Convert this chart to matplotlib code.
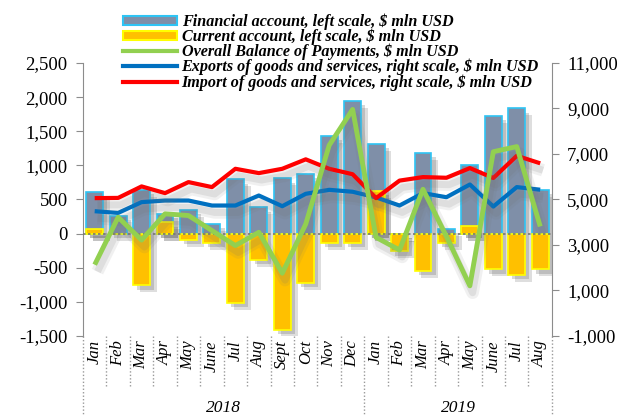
import numpy as np
import matplotlib
matplotlib.use("Agg")
import matplotlib.pyplot as plt
import matplotlib.patheffects as pe
from matplotlib.patches import Patch
from matplotlib.lines import Line2D

plt.rcParams["font.family"] = ["Liberation Serif", "DejaVu Serif"]

# --- Data ---
months = ["Jan", "Feb", "Mar", "Apr", "May", "June", "Jul", "Aug", "Sept", "Oct", "Nov", "Dec",
          "Jan", "Feb", "Mar", "Apr", "May", "June", "Jul", "Aug"]
years = ["2018", "2019"]
year_lengths = [12, 8]

financial = [610, 265, 635, 290, 345, 145, 795, 385, 810, 880, 1430, 1945,
             1310, -20, 1180, 70, 1000, 1720, 1835, 640]
current = [65, -10, -760, 165, -95, -135, -1015, -380, -1415, -725, -135, -140,
           620, -260, -545, -140, 105, -525, -610, -525]
balance = [-455, 240, -95, 290, 265, 45, -175, 20, -580, 140, 1295, 1820,
           -55, -240, 650, -40, -765, 1200, 1275, 105]
exports = [4485, 4410, 4885, 4955, 4955, 4735, 4735, 5175, 4705, 5250, 5425, 5340,
           5090, 4735, 5280, 5100, 5660, 4690, 5545, 5430]
imports = [5060, 5070, 5575, 5280, 5765, 5545, 6350, 6160, 6350, 6765, 6350, 6110,
           5060, 5830, 5985, 5955, 6380, 5945, 6920, 6590]

labels = ["Financial account, left scale, $ mln USD",
          "Current account, left scale, $ mln USD",
          "Overall Balance of Payments, $ mln USD",
          "Exports of goods and services, right scale, $ mln USD",
          "Import of goods and services, right scale, $ mln USD"]

c_fin, c_fin_edge = "#7F8FA8", "#2EC4F4"
c_cur, c_cur_edge = "#FFC000", "#FFFF00"
c_bop, c_exp, c_imp = "#92D050", "#0070C0", "#FF0000"
axis_grey = "#8C8C8C"

x = np.arange(len(months))

fig = plt.figure(figsize=(6.3, 4.16), dpi=100)
ax = fig.add_axes([0.1317, 0.1923, 0.7444, 0.6563])

# soft-ish drop shadows, stacked to fake a blur
bar_shadow = [pe.SimplePatchShadow(offset=(5, -5), shadow_rgbFace="0.3", alpha=0.18),
              pe.SimplePatchShadow(offset=(3, -3), shadow_rgbFace="0.3", alpha=0.22),
              pe.Normal()]
line_shadow = [pe.SimpleLineShadow(offset=(2, -5), shadow_color="0.45", alpha=0.10, linewidth=9),
               pe.SimpleLineShadow(offset=(2, -5), shadow_color="0.45", alpha=0.14, linewidth=5),
               pe.Normal()]

ax.bar(x, financial, width=0.72, color=c_fin, edgecolor=c_fin_edge, linewidth=1.2,
       path_effects=bar_shadow, zorder=2)
ax.bar(x, current, width=0.72, color=c_cur, edgecolor=c_cur_edge, linewidth=1.2,
       path_effects=bar_shadow, zorder=3)
ax.axhline(0, color="#777777", linestyle=(0, (1.5, 1.5)), linewidth=1.2, zorder=4)

ax.set_xlim(-0.5, len(months) - 0.5)
ax.set_ylim(-1500, 2500)
ax.set_yticks(np.arange(-1500, 2501, 500))
ax.set_yticklabels([f"{v:,}" for v in range(-1500, 2501, 500)])

ax2 = ax.twinx()
ax2.plot(x, exports, color=c_exp, linewidth=3, path_effects=line_shadow, solid_capstyle="butt")
ax2.plot(x, imports, color=c_imp, linewidth=3, path_effects=line_shadow, solid_capstyle="butt")
ax2.set_ylim(-1000, 11000)
ax2.set_yticks(np.arange(-1000, 11001, 2000))
ax2.set_yticklabels([f"{v:,}" for v in range(-1000, 11001, 2000)])

ax3 = ax.twinx()
ax3.plot(x, balance, color=c_bop, linewidth=3.5, path_effects=line_shadow, solid_capstyle="butt")
ax3.set_ylim(ax.get_ylim())
ax3.axis("off")

for a in (ax, ax2):
    for s in a.spines.values():
        s.set_visible(False)
ax.spines["left"].set_visible(True)
ax.spines["left"].set_color(axis_grey)
ax2.spines["right"].set_visible(True)
ax2.spines["right"].set_color(axis_grey)
ax.tick_params(axis="y", direction="out", length=5, color=axis_grey, labelsize=13.5, pad=6)
ax2.tick_params(axis="y", direction="out", length=5, color=axis_grey, labelsize=13.5, pad=6)
ax.patch.set_visible(False)

ax.set_xticks(x)
ax.set_xticklabels(months, rotation=90, fontstyle="italic", fontsize=12)
ax.tick_params(axis="x", length=0, pad=3)

# dotted category separators below the plot
trans = ax.get_xaxis_transform()
for i in range(len(months) + 1):
    long_sep = i in (0, 12, len(months))
    ax.plot([i - 0.5, i - 0.5], [0, -0.30 if long_sep else -0.19], transform=trans,
            color="#999999", linestyle=(0, (1, 1.5)), linewidth=1, clip_on=False)

start = 0
for yr, n in zip(years, year_lengths):
    ax.text(start + n / 2 - 0.5, -0.265, yr, transform=trans, ha="center", va="center",
            fontstyle="italic", fontsize=12.5)
    start += n

handles = [Patch(facecolor=c_fin, edgecolor=c_fin_edge, linewidth=1.5),
           Patch(facecolor=c_cur, edgecolor=c_cur_edge, linewidth=1.5),
           Line2D([], [], color=c_bop, linewidth=3),
           Line2D([], [], color=c_exp, linewidth=3),
           Line2D([], [], color=c_imp, linewidth=3)]
fig.legend(handles, labels, loc="upper left", bbox_to_anchor=(0.177, 0.995), frameon=False,
           prop={"family": "Liberation Serif", "style": "italic", "weight": "bold", "size": 11.6},
           handlelength=3.35, handleheight=0.5, handletextpad=0.3, labelspacing=-0.08,
           borderpad=0.2)

fig.savefig("out.png", dpi=100)
